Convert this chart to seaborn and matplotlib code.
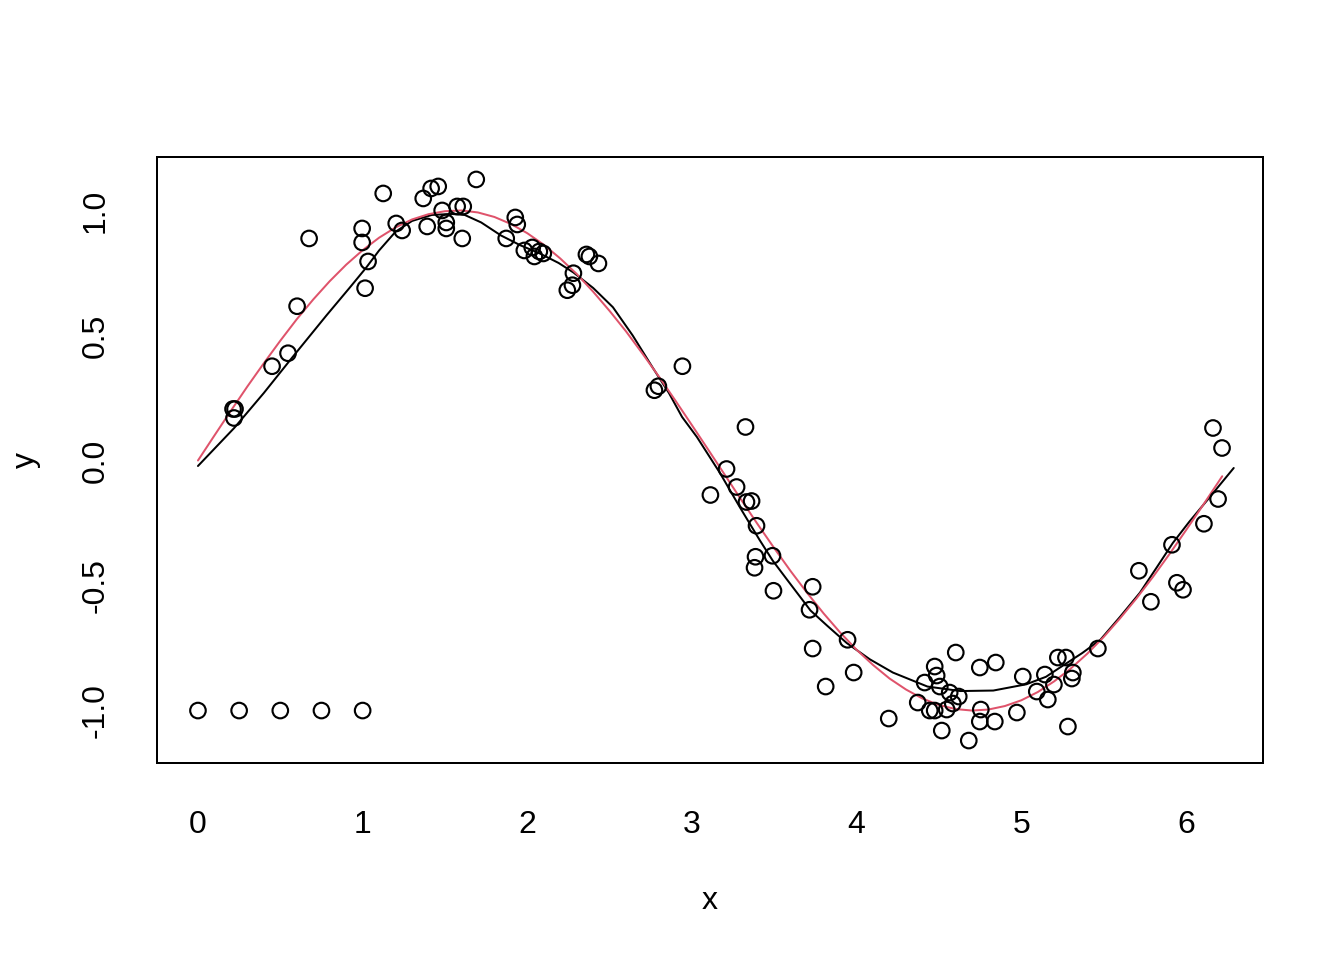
import numpy as np
import matplotlib
matplotlib.use("Agg")
import matplotlib.pyplot as plt
import pandas as pd
import seaborn as sns

pts_x = [0.213, 0.225, 0.219, 0.450, 0.547, 0.602, 0.675, 0.997, 0.997, 1.033,
         1.015, 1.125, 1.204, 1.240, 1.368, 1.416, 1.459, 1.392, 1.483, 1.508,
         1.508, 1.574, 1.611, 1.605, 1.690, 1.927, 1.939, 1.872, 1.982, 2.030,
         2.043, 2.073, 2.097, 2.280, 2.274, 2.243, 2.359, 2.377, 2.432, 2.942,
         2.796, 2.772, 3.325, 3.210, 3.112, 3.271, 3.331, 3.362, 3.392, 3.386,
         3.380, 3.489, 3.733, 3.495, 3.714, 3.945, 3.733, 3.982, 3.812, 4.195,
         4.371, 4.413, 4.474, 4.486, 4.505, 4.565, 4.620, 4.584, 4.547, 4.444,
         4.474, 4.517, 4.602, 4.681, 4.748, 4.845, 4.754, 4.748, 4.839, 4.973,
         5.009, 5.094, 5.143, 5.161, 5.198, 5.222, 5.271, 5.313, 5.307, 5.283,
         5.465, 5.714, 5.787, 5.915, 5.945, 5.982, 6.109, 6.195, 6.164, 6.219,
         0.0, 0.25, 0.5, 0.75, 1.0]
pts_y = [0.206, 0.206, 0.170, 0.377, 0.429, 0.617, 0.888, 0.928, 0.872, 0.796,
         0.689, 1.068, 0.948, 0.920, 1.048, 1.088, 1.096, 0.936, 1.000, 0.952,
         0.928, 1.016, 1.016, 0.888, 1.124, 0.972, 0.944, 0.888, 0.840, 0.852,
         0.816, 0.836, 0.828, 0.749, 0.701, 0.681, 0.824, 0.816, 0.788, 0.377,
         0.297, 0.281, 0.134, -0.034, -0.138, -0.106, -0.166, -0.162, -0.261, -0.385,
         -0.429, -0.381, -0.505, -0.521, -0.597, -0.717, -0.752, -0.848, -0.904, -1.032,
         -0.968, -0.888, -0.824, -0.860, -0.904, -0.928, -0.944, -0.972, -0.996, -1.000,
         -1.000, -1.080, -0.768, -1.120, -0.828, -0.808, -0.996, -1.044, -1.044, -1.008,
         -0.864, -0.924, -0.856, -0.956, -0.896, -0.788, -0.788, -0.848, -0.872, -1.064,
         -0.752, -0.441, -0.565, -0.337, -0.489, -0.517, -0.253, -0.154, 0.130, 0.050,
         -1.0, -1.0, -1.0, -1.0, -1.0]

# fitted smooth (black)
fit_x = [0.0, 0.22, 0.40, 0.57, 0.78, 0.92, 1.02, 1.10, 1.20, 1.30, 1.42,
         1.54, 1.62, 1.72, 1.84, 1.96, 2.07, 2.19, 2.28, 2.40, 2.52, 2.64, 2.76,
         2.86, 2.94, 3.03, 3.17, 3.29, 3.41, 3.49, 3.57, 3.72, 3.82, 3.94, 4.08,
         4.22, 4.43, 4.63, 4.83, 5.03, 5.15, 5.23, 5.30, 5.37, 5.48, 5.60, 5.72,
         5.82, 5.92, 6.02, 6.13, 6.29]
fit_y = [-0.022, 0.13, 0.27, 0.41, 0.58, 0.69, 0.77, 0.84, 0.915, 0.958, 0.982,
         0.986, 0.982, 0.952, 0.90, 0.86, 0.83, 0.79, 0.752, 0.69, 0.613, 0.50, 0.373,
         0.27, 0.174, 0.094, -0.05, -0.186, -0.317, -0.40, -0.47, -0.60, -0.66, -0.73, -0.795,
         -0.848, -0.904, -0.922, -0.92, -0.895, -0.865, -0.83, -0.80, -0.77, -0.717, -0.625, -0.529,
         -0.43, -0.33, -0.245, -0.158, -0.03]

# true curve (red)
true_x = [0.0, 0.1, 0.2, 0.3, 0.4, 0.5, 0.6, 0.7, 0.8, 0.9, 1.0, 1.1, 1.2, 1.3,
          1.4, 1.5, 1.6, 1.7, 1.8, 1.9, 2.0, 2.1, 2.2, 2.3, 2.4, 2.5, 2.6, 2.7,
          2.8, 2.9, 3.0, 3.1, 3.2, 3.3, 3.4, 3.5, 3.6, 3.7, 3.8, 3.9, 4.0, 4.1,
          4.2, 4.3, 4.4, 4.5, 4.6, 4.7, 4.8, 4.9, 5.0, 5.1, 5.2, 5.3, 5.4, 5.5,
          5.6, 5.7, 5.8, 5.9, 6.0, 6.1, 6.2, 6.22]
true_y = [0.000, 0.100, 0.199, 0.296, 0.389, 0.479, 0.565, 0.644, 0.717, 0.783,
          0.841, 0.891, 0.932, 0.964, 0.985, 0.997, 1.000, 0.992, 0.974, 0.946,
          0.909, 0.863, 0.808, 0.746, 0.675, 0.598, 0.516, 0.427, 0.335, 0.239,
          0.141, 0.042, -0.058, -0.158, -0.256, -0.351, -0.443, -0.530, -0.612,
          -0.688, -0.757, -0.818, -0.872, -0.916, -0.952, -0.978, -0.994, -1.000,
          -0.996, -0.982, -0.959, -0.926, -0.883, -0.832, -0.773, -0.706, -0.631,
          -0.551, -0.465, -0.374, -0.279, -0.182, -0.083, -0.063]

x_ticks = [0, 1, 2, 3, 4, 5, 6]
y_ticks = [-1.0, -0.5, 0.0, 0.5, 1.0]
y_tick_labels = ["-1.0", "-0.5", "0.0", "0.5", "1.0"]

sns.set_style("white")
plt.rcParams['font.family'] = ['Liberation Sans', 'DejaVu Sans']
plt.rcParams['font.size'] = 12
plt.rcParams['axes.unicode_minus'] = False
plt.rcParams['text.color'] = 'black'
plt.rcParams['axes.labelcolor'] = 'black'

fig = plt.figure(figsize=(7, 5), dpi=192)
ax = fig.add_axes([157 / 1344, 1 - 763 / 960, (1263 - 157) / 1344, (763 - 157) / 960])

pts = pd.DataFrame({"x": pts_x, "y": pts_y})
sns.scatterplot(data=pts, x="x", y="y", ax=ax, s=34, facecolors="none",
                edgecolor="black", linewidth=0.8, zorder=3)
sns.lineplot(x=fit_x, y=fit_y, ax=ax, color="black", linewidth=0.75,
             estimator=None, sort=False, solid_joinstyle="round")
sns.lineplot(x=true_x, y=true_y, ax=ax, color="#DF536B", linewidth=0.75,
             estimator=None, sort=False, solid_joinstyle="round")

xr = max(pts_x) - min(pts_x)
yr = max(pts_y) - min(pts_y)
ax.set_xlim(min(pts_x) - 0.04 * xr, max(pts_x) + 0.04 * xr)
ax.set_ylim(min(pts_y) - 0.04 * yr, max(pts_y) + 0.04 * yr)

ax.set_xticks(x_ticks)
ax.set_xticklabels([str(t) for t in x_ticks])
ax.set_yticks(y_ticks)
ax.set_yticklabels(y_tick_labels)
ax.tick_params(axis="both", direction="out", length=7.5, width=0.75,
               color="black", labelsize=12, labelcolor="black", pad=10)
ax.tick_params(axis="y", labelrotation=90)
plt.setp(ax.get_yticklabels(), va="center", ha="right")

for sp in ax.spines.values():
    sp.set_visible(True)
    sp.set_color("black")
    sp.set_linewidth(0.75)

ax.set_xlabel("x", fontsize=12, va="baseline", color="black")
ax.xaxis.set_label_coords(0.5, (763 - 909) / 606)
ax.set_ylabel("y", fontsize=12, va="center", ha="center", color="black")
ax.yaxis.set_label_coords((26 - 157) / 1106, 0.5)

fig.savefig("out.png", dpi=192)
